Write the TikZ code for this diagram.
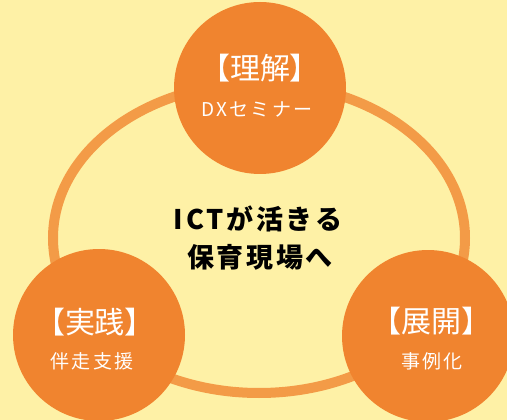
\documentclass[tikz,border=0pt]{standalone}
\usepackage{fontspec}
\setmainfont{Noto Sans CJK JP}
\usetikzlibrary{positioning}
\definecolor{paper}{HTML}{FEF1A6}
\definecolor{orangeDisc}{HTML}{F0842F}
\definecolor{orangeRing}{HTML}{F39B47}
\tikzset{
  disc/.style={circle, fill=orangeDisc, inner sep=0pt, minimum size=172pt},
  ring/.style={orangeRing, line width=10pt},
  title/.style={white, font=\fontsize{30}{32}\selectfont},
  subtitle/.style={white, font=\fontsize{19}{21}\selectfont\addfontfeature{LetterSpace=12}},
  goal/.style={black, font=\fontsize{27}{29}\selectfont\bfseries\addfontfeature{LetterSpace=10}}
}

\begin{document}
\begin{tikzpicture}[x=1pt, y=-1pt]
      \useasboundingbox[fill=paper] (0,0) rectangle (507,420);
      % big ring behind the discs
      \draw[ring] (259,238) ellipse [x radius=206, y radius=155];
      % three discs
      \node[disc] (rikai) at (260,88) {};
      \node[disc] (jissen) at (99,335) {};
      \node[disc] (tenkai) at (428,336) {};
      \node[title] (rikai-t) at (260,68) {【理解】};
      \node[subtitle] (rikai-s) at (257,110) {DXセミナー};
      \node[title] (jissen-t) at (95,322) {【実践】};
      \node[subtitle] (jissen-s) at (92,361) {伴走支援};
      \node[title] (tenkai-t) at (431,321) {【展開】};
      \node[subtitle] (tenkai-s) at (432,361) {事例化};
      % centre text
      \node[goal] (goal-a) at (258,219) {ICTが活きる};
      \node[goal] (goal-b) at (260,257) {保育現場へ};
\end{tikzpicture}
\end{document}
